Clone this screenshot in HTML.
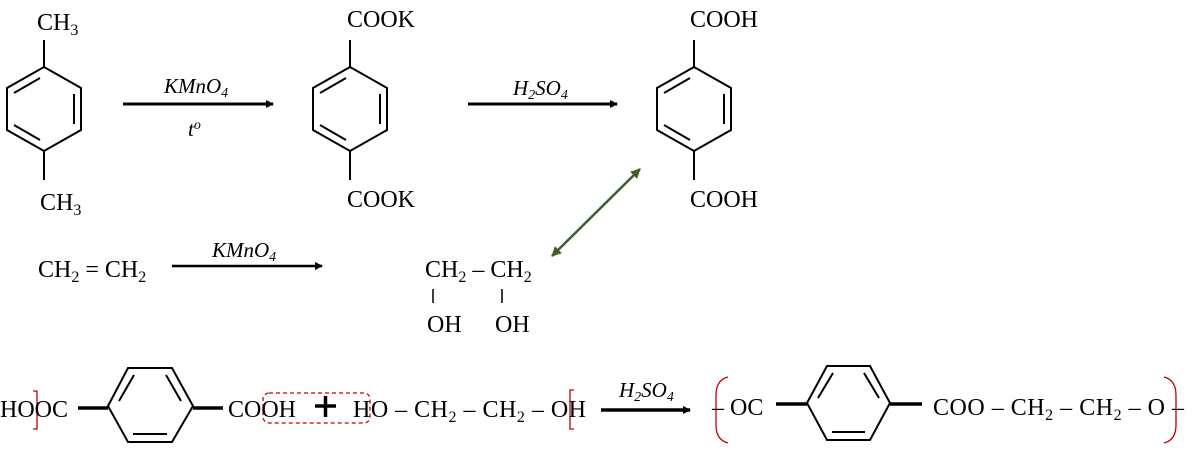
<!DOCTYPE html>
<html><head><meta charset="utf-8"><style>
html,body{margin:0;padding:0;background:#fff;}
svg{display:block;}
text{font-family:"Liberation Serif",serif;font-size:24px;fill:#000;}
.i{font-style:italic;font-size:21px;}
</style></head><body>
<svg width="1192" height="457" viewBox="0 0 1192 457" xmlns="http://www.w3.org/2000/svg">
<defs>
<marker id="ah" markerWidth="8" markerHeight="8" refX="7" refY="4" orient="auto" markerUnits="userSpaceOnUse"><path d="M0,0 L8,4 L0,8 Z" fill="#000"/></marker>
<marker id="gh" markerWidth="10" markerHeight="10" refX="9" refY="5" orient="auto-start-reverse" markerUnits="userSpaceOnUse"><path d="M0,0 L10,5 L0,10 Z" fill="#3f5f2a"/></marker>
</defs>
<g stroke="#000" stroke-width="2" fill="none">
<g transform="translate(44,0)">
<polygon points="0,67 37,88 37,130 0,151 -37,130 -37,88"/>
<line x1="30" y1="94" x2="30" y2="124"/><line x1="-30" y1="93" x2="-4" y2="78"/><line x1="-30" y1="125" x2="-4" y2="140"/>
<line x1="0" y1="40" x2="0" y2="67"/><line x1="0" y1="151" x2="0" y2="180"/>
</g>
<g transform="translate(350,0)">
<polygon points="0,67 37,88 37,130 0,151 -37,130 -37,88"/>
<line x1="30" y1="94" x2="30" y2="124"/><line x1="-30" y1="93" x2="-4" y2="78"/><line x1="-30" y1="125" x2="-4" y2="140"/>
<line x1="0" y1="40" x2="0" y2="67"/><line x1="0" y1="151" x2="0" y2="180"/>
</g>
<g transform="translate(694,0)">
<polygon points="0,67 37,88 37,130 0,151 -37,130 -37,88"/>
<line x1="30" y1="94" x2="30" y2="124"/><line x1="-30" y1="93" x2="-4" y2="78"/><line x1="-30" y1="125" x2="-4" y2="140"/>
<line x1="0" y1="40" x2="0" y2="67"/><line x1="0" y1="151" x2="0" y2="180"/>
</g>
<polygon points="108,406 128,368 172,368 193,406 172,442 128,442"/>
<line x1="119" y1="401" x2="134" y2="375"/><line x1="166" y1="375" x2="181" y2="401"/><line x1="133" y1="434" x2="167" y2="434"/>
<line x1="78" y1="408" x2="108" y2="408" stroke-width="3.5"/><line x1="193" y1="408" x2="223" y2="408" stroke-width="3.5"/>
<polygon points="807,403 827,366 870,366 890,403 870,440 827,440"/>
<line x1="818" y1="398" x2="833" y2="373"/><line x1="864" y1="373" x2="879" y2="398"/><line x1="832" y1="432" x2="865" y2="432"/>
<line x1="776" y1="404" x2="807" y2="404" stroke-width="3.5"/><line x1="890" y1="404" x2="922" y2="404" stroke-width="3.5"/>
<line x1="123" y1="104" x2="273" y2="104" stroke-width="3" marker-end="url(#ah)"/>
<line x1="468" y1="104" x2="617" y2="104" stroke-width="3" marker-end="url(#ah)"/>
<line x1="172" y1="266" x2="322" y2="266" stroke-width="2.5" marker-end="url(#ah)"/>
<line x1="601" y1="410" x2="690" y2="410" stroke-width="3.5" marker-end="url(#ah)"/>
<line x1="433" y1="289" x2="433" y2="303" stroke-width="1.5"/><line x1="502" y1="289" x2="502" y2="303" stroke-width="1.5"/>
<line x1="315" y1="406" x2="336" y2="406" stroke-width="3.5"/><line x1="325.5" y1="396" x2="325.5" y2="417" stroke-width="3.5"/>
</g>
<line x1="552" y1="256" x2="640" y2="169" stroke="#3f5f2a" stroke-width="2.5" marker-start="url(#gh)" marker-end="url(#gh)"/>
<g stroke="#c00000" stroke-width="1.3" fill="none">
<path d="M33,391 H37 V429 H33"/>
<path d="M574,390 H570 V429 H574"/>
<rect x="263" y="393" width="107" height="30" rx="6" stroke-dasharray="4,3"/>
<path d="M728,377 Q716,380 716,395 V425 Q716,440 728,443"/>
<path d="M1164,377 Q1176,380 1176,395 V425 Q1176,440 1164,443"/>
</g>
<text x="37" y="30">CH<tspan font-size="16" dy="5">3</tspan></text>
<text x="40" y="210">CH<tspan font-size="16" dy="5">3</tspan></text>
<text x="347" y="27">COOK</text>
<text x="347" y="207">COOK</text>
<text x="690" y="27">COOH</text>
<text x="690" y="207">COOH</text>
<text class="i" x="164" y="93">KMnO<tspan font-size="14" dy="4">4</tspan></text>
<text class="i" x="188" y="136">t<tspan font-size="14" dy="-7">o</tspan></text>
<text class="i" x="513" y="95">H<tspan font-size="14" dy="4">2</tspan><tspan dy="-4">SO</tspan><tspan font-size="14" dy="4">4</tspan></text>
<text x="38" y="277">CH<tspan font-size="16" dy="5">2</tspan><tspan dy="-5"> = CH</tspan><tspan font-size="16" dy="5">2</tspan></text>
<text class="i" x="212" y="257">KMnO<tspan font-size="14" dy="4">4</tspan></text>
<text x="425" y="277">CH<tspan font-size="16" dy="5">2</tspan><tspan dy="-5"> – CH</tspan><tspan font-size="16" dy="5">2</tspan></text>
<text x="427" y="332">OH</text><text x="495" y="332">OH</text>
<text x="0" y="417">HOOC</text>
<text x="228" y="417">COOH</text>
<text x="353" y="417" textLength="233" lengthAdjust="spacing">HO – CH<tspan font-size="16" dy="5">2</tspan><tspan dy="-5"> – CH</tspan><tspan font-size="16" dy="5">2</tspan><tspan dy="-5"> – OH</tspan></text>
<text class="i" x="619" y="397">H<tspan font-size="14" dy="4">2</tspan><tspan dy="-4">SO</tspan><tspan font-size="14" dy="4">4</tspan></text>
<text x="712" y="415">– OC</text>
<text x="933" y="415" textLength="251" lengthAdjust="spacing">COO – CH<tspan font-size="16" dy="5">2</tspan><tspan dy="-5"> – CH</tspan><tspan font-size="16" dy="5">2</tspan><tspan dy="-5"> – O –</tspan></text>
</svg>
</body></html>
